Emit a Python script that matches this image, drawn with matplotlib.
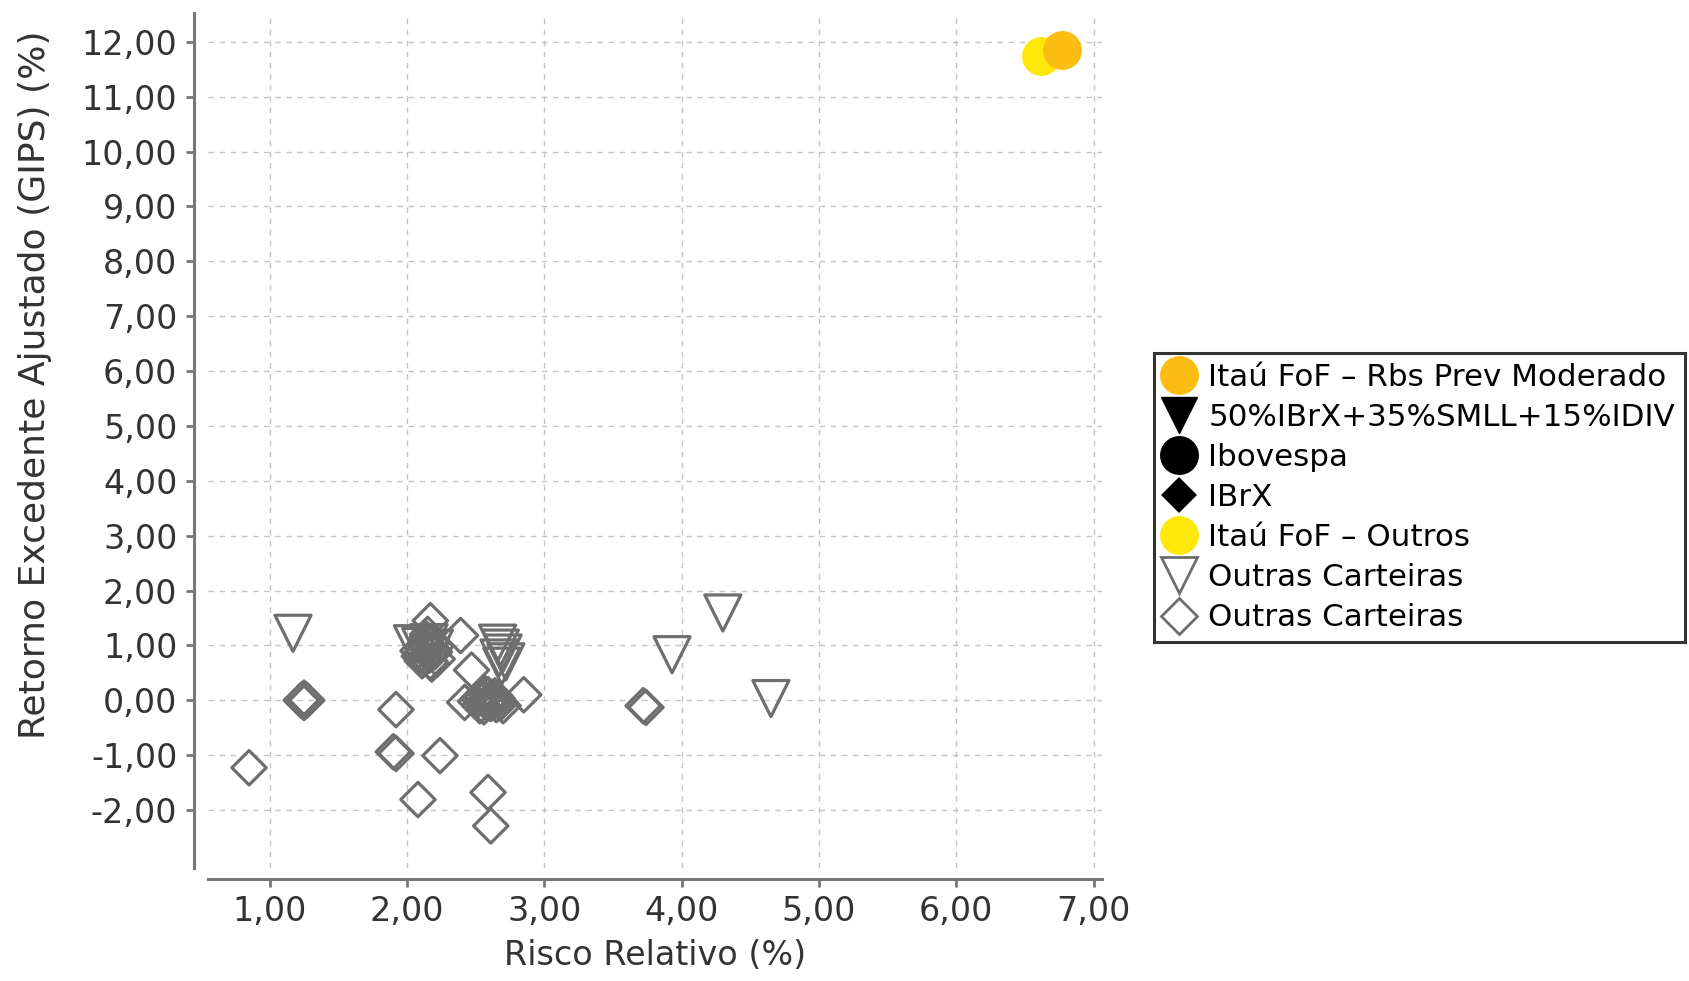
import matplotlib
matplotlib.use("Agg")
import matplotlib.pyplot as plt
from matplotlib.lines import Line2D

plt.rcParams['font.family'] = ['DejaVu Sans']

# ---- data ----
fof_rbs_x = [6.77]
fof_rbs_y = [11.86]
fof_outros_x = [6.62]
fof_outros_y = [11.74]

tri_x = [1.17, 2.04, 2.10, 2.16, 2.20, 2.66, 2.68, 2.70, 2.67, 2.72, 2.69, 3.93, 4.30, 4.65]
tri_y = [1.22, 1.03, 0.98, 1.05, 0.95, 1.04, 0.95, 0.86, 0.77, 0.70, 0.62, 0.83, 1.59, 0.03]

dia_x = [0.85, 1.23, 1.27, 1.25, 1.25, 1.92, 1.90, 1.92, 2.24, 2.08, 2.59, 2.61,
         2.85, 2.17, 2.39, 2.10, 2.12, 2.15, 2.18, 2.20, 2.13, 2.17, 2.22, 2.14,
         2.08, 2.11, 2.16, 2.19, 2.21, 2.15, 2.09, 2.18,
         2.47, 2.42, 2.50, 2.55, 2.58, 2.62, 2.65, 2.60, 2.53, 2.68, 2.57,
         2.52, 2.56, 2.59, 2.63, 2.66, 2.70, 2.54, 2.61, 2.64,
         3.72, 3.74]
dia_y = [-1.23, 0.00, 0.00, 0.04, -0.04, -0.17, -0.94, -0.97, -1.01, -1.81, -1.68, -2.29,
         0.10, 1.45, 1.18, 0.85, 0.78, 0.95, 1.05, 0.88, 1.00, 0.70, 0.75, 1.12,
         0.90, 0.72, 0.82, 0.92, 0.98, 1.20, 0.80, 0.66,
         0.55, -0.04, -0.02, 0.08, -0.05, 0.05, -0.08, 0.00, -0.10, -0.05, 0.12,
         0.03, -0.12, 0.10, -0.02, 0.02, -0.10, 0.06, -0.06, 0.08,
         -0.10, -0.13]

x_ticks = [1, 2, 3, 4, 5, 6, 7]
y_ticks = [-2, -1, 0, 1, 2, 3, 4, 5, 6, 7, 8, 9, 10, 11, 12]

labels = ["Itaú FoF – Rbs Prev Moderado", "50%IBrX+35%SMLL+15%IDIV", "Ibovespa",
          "IBrX", "Itaú FoF – Outros", "Outras Carteiras", "Outras Carteiras"]

# ---- figure ----
fig = plt.figure(figsize=(16.9, 9.81), dpi=100)
ax = fig.add_axes([0.123, 0.1156, 0.652 - 0.123, 0.987 - 0.1156])

gray = '#6e6e6e'
orange = '#fbbd12'
yellow = '#fde80a'

ax.scatter(dia_x, dia_y, marker='D', s=17.5**2, facecolors='none', edgecolors=gray,
           linewidths=2.3, zorder=3)
ax.scatter(tri_x, tri_y, marker='v', s=26**2, facecolors='none', edgecolors=gray,
           linewidths=2.3, zorder=3)
ax.scatter(fof_outros_x, fof_outros_y, marker='o', s=28**2, color=yellow, zorder=4, linewidths=0)
ax.scatter(fof_rbs_x, fof_rbs_y, marker='o', s=28**2, color=orange, zorder=5, linewidths=0)

ax.set_xlim(0.55, 7.06)
ax.set_ylim(-3.05, 12.53)
ax.set_xticks(x_ticks)
ax.set_yticks(y_ticks)
ax.set_xticklabels([f"{v:.2f}".replace('.', ',') for v in x_ticks])
ax.set_yticklabels([f"{v:.2f}".replace('.', ',') for v in y_ticks])

ax.grid(True, linestyle=(0, (4, 4)), color='#c4c4c4', linewidth=1.0)
ax.set_axisbelow(True)

for s in ['top', 'right']:
    ax.spines[s].set_visible(False)
ax.spines['left'].set_position(('outward', 10))
ax.spines['bottom'].set_position(('outward', 8))
for s in ['left', 'bottom']:
    ax.spines[s].set_color('#777777')
    ax.spines[s].set_linewidth(2.2)

ax.tick_params(axis='both', colors='#777777', labelcolor='#333333', labelsize=24,
               length=6, width=2, pad=6)

ax.set_xlabel("Risco Relativo (%)", fontsize=24, color='#333333', labelpad=8)
ax.set_ylabel("Retorno Excedente Ajustado (GIPS) (%)", fontsize=26, color='#333333')
ax.yaxis.set_label_coords(-0.174, 0.565)

handles = [
    Line2D([], [], marker='o', linestyle='none', markersize=28, markerfacecolor=orange, markeredgewidth=0),
    Line2D([], [], marker='v', linestyle='none', markersize=26, markerfacecolor='black', markeredgecolor='black'),
    Line2D([], [], marker='o', linestyle='none', markersize=28, markerfacecolor='black', markeredgewidth=0),
    Line2D([], [], marker='D', linestyle='none', markersize=18, markerfacecolor='black', markeredgewidth=0),
    Line2D([], [], marker='o', linestyle='none', markersize=28, markerfacecolor=yellow, markeredgewidth=0),
    Line2D([], [], marker='v', linestyle='none', markersize=26, markerfacecolor='none', markeredgecolor=gray, markeredgewidth=2),
    Line2D([], [], marker='D', linestyle='none', markersize=18, markerfacecolor='none', markeredgecolor=gray, markeredgewidth=2),
]
leg = fig.legend(handles, labels, loc='center left', bbox_to_anchor=(0.683, 0.4929),
                 fontsize=22.3, frameon=True, fancybox=False, edgecolor='black',
                 labelspacing=0.36, handlelength=1.0, handletextpad=0.45,
                 borderpad=0.3, borderaxespad=0.0)
leg.get_frame().set_linewidth(2.2)

fig.savefig("out.png", dpi=100)
